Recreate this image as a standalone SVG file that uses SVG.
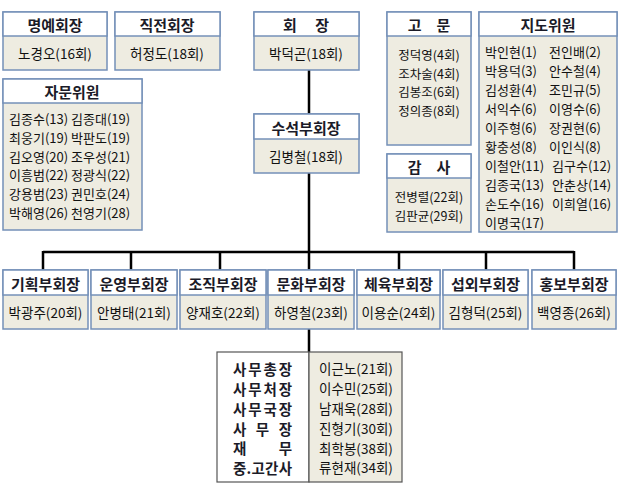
<svg xmlns="http://www.w3.org/2000/svg" width="620" height="495" viewBox="0 0 620 495">
<style>
.hd{fill:#ffffff;stroke:#7490b8;stroke-width:1.5}
.bd{fill:#eeece1;stroke:#7490b8;stroke-width:1.5}
.ht{font-family:"Noto Sans CJK KR","Noto Sans",sans-serif;font-weight:bold;font-size:15px;fill:#1b1b28;text-anchor:middle;dominant-baseline:central}
.bt{font-family:"Noto Sans CJK KR","Noto Sans",sans-serif;font-size:13.5px;fill:#111;text-anchor:middle;dominant-baseline:central}
.st{font-family:"Noto Sans CJK KR","Noto Sans",sans-serif;font-size:12.5px;fill:#111;text-anchor:middle;dominant-baseline:central}
.lt{font-family:"Noto Sans CJK KR","Noto Sans",sans-serif;font-size:13px;fill:#111;dominant-baseline:central}
.lb{font-family:"Noto Sans CJK KR","Noto Sans",sans-serif;font-weight:bold;font-size:14.5px;fill:#1b1b28;dominant-baseline:central}
.ln{stroke:#000;stroke-width:2.5;fill:none}
</style>
<rect width="620" height="495" fill="#fff"/>
<g id="connectors">
<path class="ln" d="M309 70V114M309 173V270M43 252H574M43 251V270M131 252V270M220 252V270M399 252V270M486 252V270M574 251V270M309 329V352"/>
</g>
<g id="n-myeongye">
<rect class="bd" x="3" y="12" width="104" height="58"/>
<rect class="hd" x="3" y="12" width="104" height="24"/>
<text class="ht" x="55" y="24">명예회장</text>
<text class="bt" x="55" y="53">노경오(16회)</text>
</g>
<g id="n-jikjeon">
<rect class="bd" x="115" y="12" width="105" height="58"/>
<rect class="hd" x="115" y="12" width="105" height="24"/>
<text class="ht" x="167" y="24">직전회장</text>
<text class="bt" x="167" y="53">허정도(18회)</text>
</g>
<g id="n-jamun">
<rect class="bd" x="3" y="79" width="139" height="151"/>
<rect class="hd" x="3" y="79" width="139" height="24"/>
<text class="ht" x="72" y="91">자문위원</text>
<text class="lt" x="9" y="118">김종수(13) 김종대(19)</text>
<text class="lt" x="9" y="137">최웅기(19) 박판도(19)</text>
<text class="lt" x="9" y="156">김오영(20) 조우성(21)</text>
<text class="lt" x="9" y="174.5">이흥범(22) 정광식(22)</text>
<text class="lt" x="9" y="193">강용범(23) 권민호(24)</text>
<text class="lt" x="9" y="212">박해영(26) 천영기(28)</text>
</g>
<g id="n-hoejang">
<rect class="bd" x="254" y="12" width="105" height="58"/>
<rect class="hd" x="254" y="12" width="105" height="24"/>
<text class="ht" x="306" y="24">회　 장</text>
<text class="bt" x="306" y="53">박덕곤(18회)</text>
</g>
<g id="n-suseok">
<rect class="bd" x="254" y="114" width="105" height="59"/>
<rect class="hd" x="254" y="114" width="105" height="25"/>
<text class="ht" x="306" y="127">수석부회장</text>
<text class="bt" x="306" y="156">김병철(18회)</text>
</g>
<g id="n-gomun">
<rect class="bd" x="387" y="12" width="84" height="133"/>
<rect class="hd" x="387" y="12" width="84" height="24"/>
<text class="ht" x="429" y="24">고　문</text>
<text class="st" x="429" y="54.5">정덕영(4회)</text>
<text class="st" x="429" y="73">조차술(4회)</text>
<text class="st" x="429" y="91.5">김봉조(6회)</text>
<text class="st" x="429" y="110">정의종(8회)</text>
</g>
<g id="n-gamsa">
<rect class="bd" x="387" y="154" width="84" height="78"/>
<rect class="hd" x="387" y="154" width="84" height="24"/>
<text class="ht" x="429" y="166">감　사</text>
<text class="st" x="429" y="196.5">전병렬(22회)</text>
<text class="st" x="429" y="215">김판균(29회)</text>
</g>
<g id="n-jido">
<rect class="bd" x="479" y="12" width="138" height="220"/>
<rect class="hd" x="479" y="12" width="138" height="24"/>
<text class="ht" x="548" y="24">지도위원</text>
<text class="lt" x="485" y="51">박인현(1)</text><text class="lt" x="549" y="51">전인배(2)</text>
<text class="lt" x="485" y="70">박용덕(3)</text><text class="lt" x="549" y="70">안수철(4)</text>
<text class="lt" x="485" y="89">김성환(4)</text><text class="lt" x="549" y="89">조민규(5)</text>
<text class="lt" x="485" y="108">서익수(6)</text><text class="lt" x="549" y="108">이영수(6)</text>
<text class="lt" x="485" y="127">이주형(6)</text><text class="lt" x="549" y="127">장권현(6)</text>
<text class="lt" x="485" y="146">황충성(8)</text><text class="lt" x="549" y="146">이인식(8)</text>
<text class="lt" x="485" y="165">이철안(11)</text><text class="lt" x="552" y="165">김구수(12)</text>
<text class="lt" x="485" y="184">김종국(13)</text><text class="lt" x="552" y="184">안춘상(14)</text>
<text class="lt" x="485" y="203">손도수(16)</text><text class="lt" x="552" y="203">이희열(16)</text>
<text class="lt" x="485" y="222">이명국(17)</text>
</g>
<g id="n-gihoek">
<rect class="bd" x="3" y="270" width="85" height="59"/>
<rect class="hd" x="3" y="270" width="85" height="25"/>
<text class="ht" x="45.5" y="283">기획부회장</text>
<text class="bt" x="45.5" y="312">박광주(20회)</text>
</g>
<g id="n-unyeong">
<rect class="bd" x="91" y="270" width="86" height="59"/>
<rect class="hd" x="91" y="270" width="86" height="25"/>
<text class="ht" x="134" y="283">운영부회장</text>
<text class="bt" x="134" y="312">안병태(21회)</text>
</g>
<g id="n-jojik">
<rect class="bd" x="180" y="270" width="86" height="59"/>
<rect class="hd" x="180" y="270" width="86" height="25"/>
<text class="ht" x="223" y="283">조직부회장</text>
<text class="bt" x="223" y="312">양재호(22회)</text>
</g>
<g id="n-munhwa">
<rect class="bd" x="268" y="270" width="86" height="59"/>
<rect class="hd" x="268" y="270" width="86" height="25"/>
<text class="ht" x="311" y="283">문화부회장</text>
<text class="bt" x="311" y="312">하영철(23회)</text>
</g>
<g id="n-cheyuk">
<rect class="bd" x="357" y="270" width="83" height="59"/>
<rect class="hd" x="357" y="270" width="83" height="25"/>
<text class="ht" x="398.5" y="283">체육부회장</text>
<text class="bt" x="398.5" y="312">이용순(24회)</text>
</g>
<g id="n-seobwoe">
<rect class="bd" x="443" y="270" width="85" height="59"/>
<rect class="hd" x="443" y="270" width="85" height="25"/>
<text class="ht" x="485.5" y="283">섭외부회장</text>
<text class="bt" x="485.5" y="312">김형덕(25회)</text>
</g>
<g id="n-hongbo">
<rect class="bd" x="532" y="270" width="84" height="59"/>
<rect class="hd" x="532" y="270" width="84" height="25"/>
<text class="ht" x="574" y="283">홍보부회장</text>
<text class="bt" x="574" y="312">백영종(26회)</text>
</g>
<g id="n-samu">
<rect x="217" y="352" width="92" height="130" fill="#fff" stroke="#555" stroke-width="1.2"/>
<rect x="309" y="352" width="93" height="130" fill="#eeece1" stroke="#555" stroke-width="1.2"/>
<text class="lb" x="233" y="368" textLength="59" lengthAdjust="spacing">사무총장</text>
<text class="lb" x="233" y="388" textLength="59" lengthAdjust="spacing">사무처장</text>
<text class="lb" x="233" y="408" textLength="59" lengthAdjust="spacing">사무국장</text>
<text class="lb" x="233" y="428" textLength="59" lengthAdjust="spacing">사 무 장</text>
<text class="lb" x="233" y="447.5" textLength="59" lengthAdjust="spacing">재 무</text>
<text class="lb" x="233" y="467" textLength="59" lengthAdjust="spacing">중.고간사</text>
<text class="bt" x="356" y="368">이근노(21회)</text>
<text class="bt" x="356" y="388">이수민(25회)</text>
<text class="bt" x="356" y="408">남재욱(28회)</text>
<text class="bt" x="356" y="428">진형기(30회)</text>
<text class="bt" x="356" y="447.5">최학봉(38회)</text>
<text class="bt" x="356" y="467">류현재(34회)</text>
</g>
</svg>
